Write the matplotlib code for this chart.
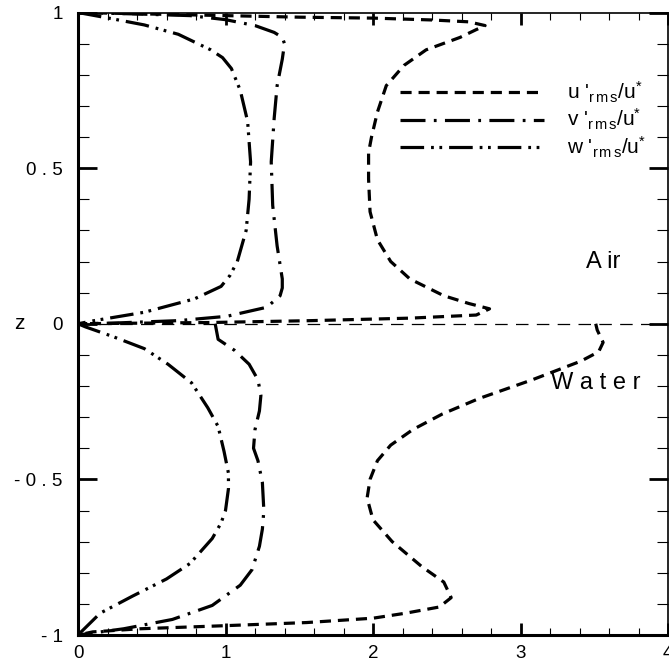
import numpy as np
import matplotlib
matplotlib.use("Agg")
import matplotlib.pyplot as plt
from matplotlib.ticker import MultipleLocator

plt.rcParams['font.family'] = ['Liberation Sans', 'DejaVu Sans']
plt.rcParams['mathtext.fontset'] = 'custom'
plt.rcParams['mathtext.rm'] = 'Liberation Sans'
plt.rcParams['mathtext.it'] = 'Liberation Sans'
plt.rcParams['lines.scale_dashes'] = False

# profiles: (value, z)
u_air_x = [0, 0.5, 1.0, 1.5, 2.0, 2.4, 2.65, 2.76, 2.70, 2.59, 2.36, 2.21, 2.09, 2.03, 1.99,
           1.97, 1.97, 1.98, 2.03, 2.12, 2.25, 2.48, 2.65, 2.79, 2.70, 2.25, 1.58, 0.9, 0]
u_air_z = [1.0, 0.995, 0.99, 0.985, 0.982, 0.976, 0.97, 0.958, 0.945, 0.92, 0.88, 0.83, 0.765, 0.68, 0.6,
           0.55, 0.465, 0.36, 0.27, 0.20, 0.144, 0.09, 0.065, 0.048, 0.028, 0.018, 0.01, 0.004, 0]

v_air_x = [0, 0.42, 0.76, 1.0, 1.2, 1.33, 1.385, 1.40, 1.385, 1.35, 1.33, 1.31, 1.32, 1.35, 1.385,
           1.385, 1.37, 1.28, 1.01, 0.68, 0.23, 0]
v_air_z = [1.0, 0.995, 0.99, 0.977, 0.958, 0.936, 0.92, 0.90, 0.85, 0.765, 0.66, 0.52, 0.38, 0.25, 0.144,
           0.115, 0.09, 0.053, 0.024, 0.01, 0.002, 0]

w_air_x = [0, 0.23, 0.45, 0.68, 0.90, 0.98, 1.04, 1.10, 1.15, 1.17, 1.16, 1.14, 1.08, 1.03, 0.97, 0.79,
           0.45, 0.11, 0]
w_air_z = [1.0, 0.98, 0.96, 0.93, 0.88, 0.855, 0.82, 0.75, 0.65, 0.52, 0.40, 0.30, 0.20, 0.155, 0.12, 0.08,
           0.037, 0.01, 0]

u_wat_x = [3.51, 3.52, 3.56, 3.53, 3.41, 3.30, 3.08, 2.90, 2.72, 2.47, 2.27, 2.12, 2.03, 1.98, 1.96,
           2.0, 2.13, 2.33, 2.48, 2.53, 2.45, 2.22, 2.0, 1.55, 1.0, 0.42, 0.1, 0]
u_wat_z = [0, -0.02, -0.06, -0.09, -0.12, -0.14, -0.18, -0.21, -0.24, -0.29, -0.34, -0.39, -0.44, -0.50, -0.56,
           -0.63, -0.70, -0.78, -0.83, -0.88, -0.91, -0.93, -0.946, -0.96, -0.97, -0.98, -0.99, -1.0]

v_wat_x = [0.93, 0.95, 1.06, 1.16, 1.22, 1.24, 1.23, 1.20, 1.19, 1.22, 1.25, 1.26, 1.25, 1.23,
           1.18, 1.10, 0.91, 0.64, 0.31, 0]
v_wat_z = [0, -0.05, -0.085, -0.13, -0.18, -0.23, -0.28, -0.34, -0.40, -0.44, -0.51, -0.60, -0.66, -0.715,
           -0.79, -0.84, -0.905, -0.95, -0.98, -1.0]

w_wat_x = [0, 0.05, 0.23, 0.45, 0.61, 0.77, 0.88, 0.95, 0.99, 1.02, 1.02, 1.00, 0.97, 0.91,
           0.76, 0.60, 0.37, 0.15, 0]
w_wat_z = [0, -0.01, -0.04, -0.08, -0.13, -0.19, -0.27, -0.33, -0.41, -0.48, -0.53, -0.60, -0.64, -0.69,
           -0.77, -0.82, -0.875, -0.93, -1.0]

labels = [r"u '$_{\rm r\,m\,s}$/u$^{*}$",
          r"v '$_{\rm r\,m\,s}$/u$^{*}$",
          r"w '$_{\rm r\,m\,s}$/u$^{*}$"]

x_ticks = [0, 1, 2, 3, 4]
x_tick_labels = ['0', '1', '2', '3', '4']
y_ticks = [-1, -0.5, 0, 0.5, 1]
y_tick_labels = ['- 1', '- 0 . 5', '0', '0 . 5', '1']

styles = [(0, (8, 5)),
          (0, (18, 6, 2, 6)),
          (0, (17, 5, 2, 4, 2, 5))]
lw = 2.3

fig = plt.figure(figsize=(6.69, 6.65), dpi=100)
ax = fig.add_axes([78 / 669, 1 - 635 / 665, 590 / 669, 622.5 / 665])

ax.axhline(0, color='black', lw=0.9, dashes=(9, 6))

ax.plot(u_air_x, u_air_z, color='black', lw=lw, linestyle=styles[0], label=labels[0])
ax.plot(v_air_x, v_air_z, color='black', lw=lw, linestyle=styles[1], label=labels[1])
ax.plot(w_air_x, w_air_z, color='black', lw=lw, linestyle=styles[2], label=labels[2])
ax.plot(u_wat_x, u_wat_z, color='black', lw=lw, linestyle=styles[0])
ax.plot(v_wat_x, v_wat_z, color='black', lw=lw, linestyle=styles[1])
ax.plot(w_wat_x, w_wat_z, color='black', lw=lw, linestyle=styles[2])

ax.set_xlim(0, 4)
ax.set_ylim(-1, 1)
ax.set_xticks(x_ticks)
ax.set_xticklabels(x_tick_labels)
ax.set_yticks(y_ticks)
ax.set_yticklabels(y_tick_labels)
ax.xaxis.set_minor_locator(MultipleLocator(0.2))
ax.yaxis.set_minor_locator(MultipleLocator(0.1))

ax.tick_params(axis='both', which='both', direction='in', top=True, right=True,
               labelsize=13.5, color='black')
ax.tick_params(axis='x', which='major', length=8.5, width=2, pad=7)
ax.tick_params(axis='x', which='minor', length=5, width=0.8)
ax.tick_params(axis='y', which='major', length=13.5, width=2, pad=11)
ax.tick_params(axis='y', which='minor', length=8, width=0.8)

for side in ['left', 'bottom']:
    ax.spines[side].set_linewidth(2.2)
for side in ['top', 'right']:
    ax.spines[side].set_linewidth(1.2)

ax.set_ylabel('z', rotation=0, fontsize=15, va='center')
ax.yaxis.set_label_coords(-0.1, 0.5)

ax.text(3.56, 0.2, 'A ir', fontsize=17, ha='center', va='center')
ax.text(3.51, -0.19, 'W a t e r', fontsize=17, ha='center', va='center')

leg = ax.legend(loc='upper left', bbox_to_anchor=(400 / 669, 1 - 80 / 665),
                bbox_transform=fig.transFigure, frameon=False, fontsize=15,
                handlelength=6.9, handletextpad=1.1, labelspacing=0.1,
                borderpad=0, borderaxespad=0)

fig.savefig('out.png', dpi=100)
